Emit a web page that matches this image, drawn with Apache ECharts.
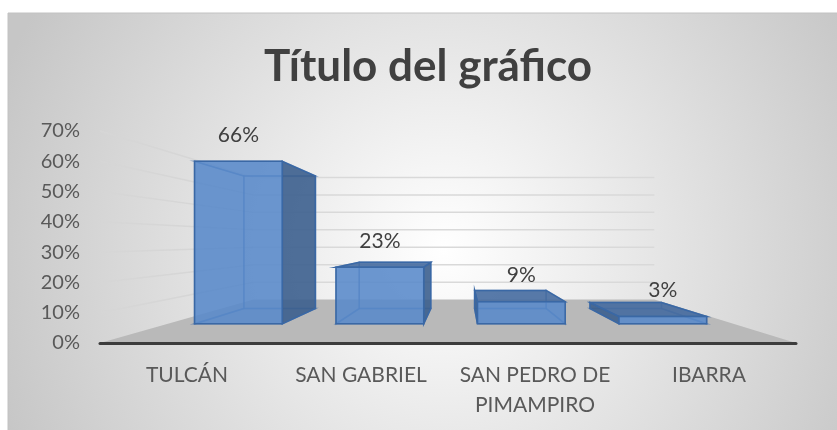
<!DOCTYPE html>
<html>
<head>
<meta charset="utf-8">
<script src="https://cdn.jsdelivr.net/npm/echarts@6/dist/echarts.min.js"></script>
<style>
  html, body { margin: 0; padding: 0; background: #fff; }
  #chart { width: 837px; height: 430px; }
</style>
</head>
<body>
<div id="chart"></div>
<script>
// datos
const categories = ['TULCÁN', 'SAN GABRIEL', 'SAN PEDRO DE\nPIMAMPIRO', 'IBARRA'];
const values = [0.66, 0.23, 0.09, 0.03];
const yTicks = [0, 0.1, 0.2, 0.3, 0.4, 0.5, 0.6, 0.7];

// perspectiva tipo Excel 3D
const VP_X = 0.52;       // punto de fuga, fraccion del ancho del eje
const VP_VALUE = 0.338;  // altura del punto de fuga, en valor del eje
const S_FRONT = 0.813;   // escala de la cara frontal de las barras
const S_BACK = 0.663;    // escala de la cara trasera
const S_WALL = 0.576;    // escala de la pared del fondo
const BAR_FRAC = 0.62;

const FONT = 'Lato, "Open Sans", sans-serif';

function frame(api) {
  const a = api.coord([0, 0]);
  const b = api.coord([categories.length - 1, 0]);
  const band = (b[0] - a[0]) / (categories.length - 1);
  const left = a[0] - band / 2;
  const width = band * categories.length;
  const vp = [left + VP_X * width, api.coord([0, VP_VALUE])[1]];
  return { band, left, right: left + width, y0: a[1], vp };
}

function proj(vp, x, y, s) {
  return [vp[0] + s * (x - vp[0]), vp[1] + s * (y - vp[1])];
}

// suelo y lineas de division en perspectiva
function renderWalls(params, api) {
  const f = frame(api);
  const children = [];
  const bl = proj(f.vp, f.left, f.y0, S_WALL);
  const br = proj(f.vp, f.right, f.y0, S_WALL);
  children.push({
    type: 'polygon',
    shape: { points: [[f.left, f.y0], bl, br, [f.right, f.y0]] },
    style: { fill: '#b9b9b9' }
  });
  yTicks.forEach(t => {
    if (t === 0) return;
    const y = api.coord([0, t])[1];
    const p1 = proj(f.vp, f.left, y, S_WALL);
    const p2 = proj(f.vp, f.right, y, S_WALL);
    children.push({
      type: 'line',
      shape: { x1: f.left, y1: y, x2: p1[0], y2: p1[1] },
      style: { stroke: '#d6d6d6', lineWidth: 1.5 }
    });
    children.push({
      type: 'line',
      shape: { x1: p1[0], y1: p1[1], x2: p2[0], y2: p2[1] },
      style: { stroke: '#d9d9d9', lineWidth: 1.5 }
    });
  });
  return { type: 'group', children };
}

// barras 3D
function renderBar(params, api) {
  const f = frame(api);
  const i = api.value(0);
  const v = api.value(1);
  const c = api.coord([i, v]);
  const w = f.band * BAR_FRAC;
  const xl = c[0] - w / 2, xr = c[0] + w / 2, yt = c[1], yb = f.y0;
  const P = (x, y, s) => proj(f.vp, x, y, s);
  const F = [P(xl, yt, S_FRONT), P(xr, yt, S_FRONT), P(xr, yb, S_FRONT), P(xl, yb, S_FRONT)];
  const B = [P(xl, yt, S_BACK), P(xr, yt, S_BACK), P(xr, yb, S_BACK), P(xl, yb, S_BACK)];

  const showTop = yt > f.vp[1];
  const showRight = xr < f.vp[0];
  const showLeft = xl > f.vp[0];

  const edge = '#3a68a5';
  const hidden = { fill: 'none', stroke: 'rgba(58,104,165,0.55)', lineWidth: 1.5 };
  const poly = (pts, style) => ({ type: 'polygon', shape: { points: pts }, style });

  const children = [];
  // caras ocultas (solo aristas, se ven por la transparencia)
  children.push(poly(B, hidden));
  children.push(poly([F[3], F[2], B[2], B[3]], hidden));
  if (!showLeft) children.push(poly([F[0], F[3], B[3], B[0]], hidden));
  if (!showRight) children.push(poly([F[1], F[2], B[2], B[1]], hidden));
  if (!showTop) children.push(poly([F[0], F[1], B[1], B[0]], hidden));
  // caras visibles
  const side = { fill: 'rgba(60,95,142,0.9)', stroke: edge, lineWidth: 1.5 };
  if (showLeft) children.push(poly([F[0], F[3], B[3], B[0]], side));
  if (showRight) children.push(poly([F[1], F[2], B[2], B[1]], side));
  if (showTop) children.push(poly([F[0], F[1], B[1], B[0]], { fill: 'rgba(70,108,160,0.9)', stroke: edge, lineWidth: 1.5 }));
  children.push(poly(F, { fill: 'rgba(88,137,202,0.88)', stroke: edge, lineWidth: 1.5 }));

  // etiqueta de valor
  children.push({
    type: 'text',
    x: (F[0][0] + F[1][0]) / 2,
    y: F[0][1] - 26,
    style: {
      text: Math.round(v * 100) + '%',
      fill: '#404040',
      fontSize: 21,
      fontFamily: FONT,
      align: 'center',
      verticalAlign: 'middle'
    }
  });
  return { type: 'group', children };
}

const chart = echarts.init(document.getElementById('chart'));

chart.setOption({
  animation: false,
  graphic: [
    {
      type: 'rect',
      z: -100,
      shape: { x: 8, y: 13, width: 837, height: 430 },
      style: {
        fill: new echarts.graphic.RadialGradient(0.52, 0.55, 1.1, [
          { offset: 0, color: '#ffffff' },
          { offset: 1, color: '#c6c6c6' }
        ]),
        stroke: '#c2c2c2',
        lineWidth: 1
      }
    },
    {
      type: 'text',
      z: 10,
      x: 428,
      y: 67,
      style: {
        text: 'Título del gráfico',
        fill: '#404040',
        fontSize: 44,
        fontWeight: 'bold',
        fontFamily: FONT,
        align: 'center',
        verticalAlign: 'middle'
      }
    }
  ],
  grid: { left: 100, right: 41, top: 131, bottom: 87 },
  xAxis: {
    type: 'category',
    data: categories,
    z: 5,
    axisLine: { lineStyle: { color: '#3c3c3c', width: 3 } },
    axisTick: { show: false },
    axisLabel: {
      margin: 17,
      fontSize: 21,
      lineHeight: 30,
      color: '#595959',
      fontFamily: FONT,
      interval: 0
    }
  },
  yAxis: {
    type: 'value',
    min: 0,
    max: 0.7,
    interval: 0.1,
    axisLine: { show: false },
    axisTick: { show: false },
    splitLine: { show: false },
    axisLabel: {
      margin: 20,
      fontSize: 20,
      color: '#595959',
      fontFamily: FONT,
      formatter: v => Math.round(v * 100) + '%'
    }
  },
  series: [
    {
      type: 'custom',
      z: 1,
      silent: true,
      renderItem: renderWalls,
      encode: { x: 0, y: 1 },
      data: [[0, 0]]
    },
    {
      type: 'custom',
      z: 3,
      renderItem: renderBar,
      encode: { x: 0, y: 1 },
      data: values.map((v, i) => [i, v])
    }
  ]
});
</script>
</body>
</html>
